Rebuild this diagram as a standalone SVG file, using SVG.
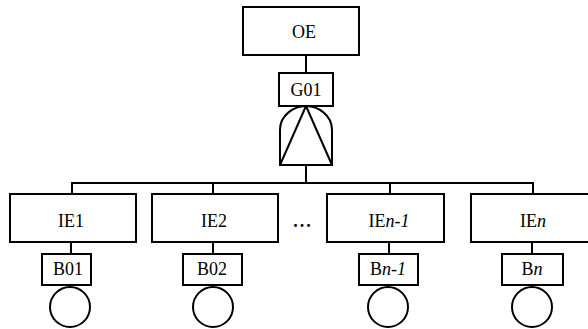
<svg xmlns="http://www.w3.org/2000/svg" width="588" height="329" viewBox="0 0 588 329">
  <style>
    .box { fill: #fff; stroke: #000; stroke-width: 2; }
    .ln { fill: none; stroke: #000; stroke-width: 2; }
    text { font-family: 'Liberation Serif', 'DejaVu Serif', serif; font-size: 18px; fill: #000; text-anchor: middle; }
    .it { font-style: italic; }
  </style>
  <rect width="588" height="329" fill="#fff"/>

  <!-- connectors -->
  <g id="connectors" class="ln">
    <line x1="306" y1="55" x2="306" y2="73"/>
    <line x1="306" y1="165" x2="306" y2="183"/>
    <polyline points="72,194 72,183 533,183 533,194"/>
    <line x1="213" y1="183" x2="213" y2="194"/>
    <line x1="390" y1="183" x2="390" y2="194"/>
    <line x1="71" y1="242" x2="71" y2="254"/>
    <line x1="213" y1="242" x2="213" y2="254"/>
    <line x1="389" y1="242" x2="389" y2="254"/>
    <line x1="532" y1="242" x2="532" y2="254"/>
  </g>

  <!-- top event -->
  <g id="OE">
    <rect class="box" x="243" y="7" width="116" height="48"/>
    <text x="304" y="38">OE</text>
  </g>

  <!-- AND gate -->
  <g id="G01">
    <rect class="box" x="279" y="73" width="54" height="33"/>
    <text x="306" y="96">G01</text>
    <path class="ln" d="M280,165 L280,130 C280,115 294,106 306,106 C318,106 332,115 332,130 L332,165 Z"/>
    <path class="ln" d="M306,106 L280,165 M306,106 L332,165"/>
  </g>

  <!-- intermediate events -->
  <g id="IE1">
    <rect class="box" x="10" y="194" width="126" height="48"/>
    <text x="71" y="227">IE1</text>
  </g>
  <g id="IE2">
    <rect class="box" x="152" y="194" width="126" height="48"/>
    <text x="214" y="227">IE2</text>
  </g>
  <text x="303" y="227" font-size="22" font-weight="bold" letter-spacing="2">...</text>
  <g id="IEn-1">
    <rect class="box" x="327" y="194" width="117" height="48"/>
    <text x="389" y="227">IE<tspan class="it">n-1</tspan></text>
  </g>
  <g id="IEn">
    <rect class="box" x="471" y="194" width="118" height="48"/>
    <text x="533" y="227">IE<tspan class="it">n</tspan></text>
  </g>

  <!-- basic events -->
  <g id="B01">
    <rect class="box" x="42" y="254" width="49" height="31"/>
    <text x="68" y="275">B01</text>
    <circle class="ln" cx="70" cy="307" r="20"/>
  </g>
  <g id="B02">
    <rect class="box" x="183" y="254" width="59" height="31"/>
    <text x="212" y="275">B02</text>
    <circle class="ln" cx="213" cy="307" r="20"/>
  </g>
  <g id="Bn-1">
    <rect class="box" x="359" y="254" width="59" height="31"/>
    <text x="388" y="275">B<tspan class="it">n-1</tspan></text>
    <circle class="ln" cx="388" cy="307" r="20"/>
  </g>
  <g id="Bn">
    <rect class="box" x="502" y="254" width="61" height="31"/>
    <text x="532" y="275">B<tspan class="it">n</tspan></text>
    <circle class="ln" cx="532" cy="307" r="20"/>
  </g>
</svg>
